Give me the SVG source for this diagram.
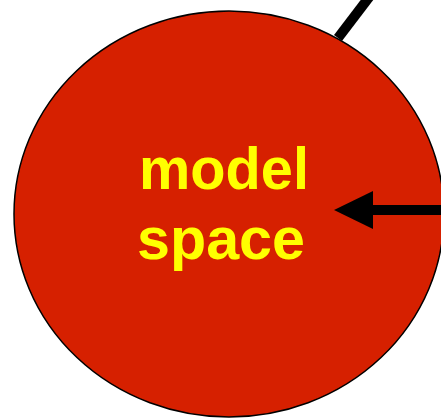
<svg xmlns="http://www.w3.org/2000/svg" width="441" height="419" viewBox="0 0 441 419">
<style>
.lbl{font-family:"Liberation Sans",Arial,sans-serif;font-weight:bold;font-size:60px;fill:#FFFF00;text-anchor:middle}
.conn{stroke:#000;stroke-width:10;fill:none}
</style>
<g id="connectors">
<line class="conn" x1="338" y1="38" x2="370" y2="-4"/>
</g>
<g id="model-space">
<ellipse cx="229" cy="214" rx="215" ry="203" fill="#D62000" stroke="#000" stroke-width="1.5"/>
<text class="lbl" x="224" y="189" textLength="170" lengthAdjust="spacingAndGlyphs">model</text>
<text class="lbl" x="221" y="259" textLength="168" lengthAdjust="spacingAndGlyphs">space</text>
</g>
<g id="connectors-2">
<line class="conn" x1="445" y1="210" x2="372" y2="210"/>
<path d="M334,210 L373,191 L373,229 Z" fill="#000"/>
</g>
</svg>
